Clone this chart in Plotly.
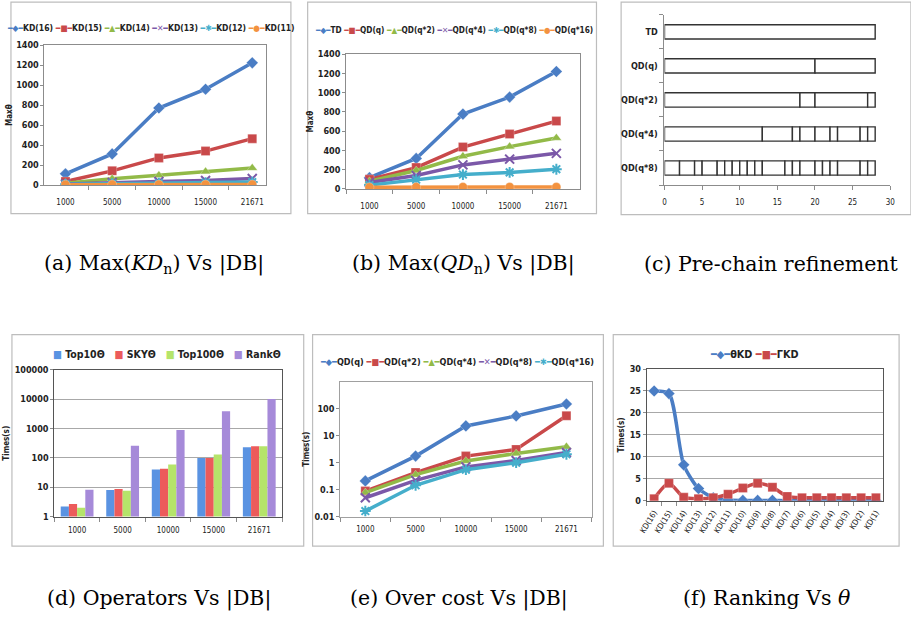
import plotly.graph_objects as go

W, H = 911, 618

# ---------------- data ----------------
sizes = ["1000", "5000", "10000", "15000", "21671"]

# (a) Max(KD_n) vs |DB|
kd_names = ["KD(16)", "KD(15)", "KD(14)", "KD(13)", "KD(12)", "KD(11)"]
kd16 = [112, 312, 772, 960, 1225]
kd15 = [35, 142, 272, 340, 465]
kd14 = [18, 62, 97, 135, 170]
kd13 = [10, 25, 35, 45, 65]
kd12 = [8, 14, 20, 25, 30]
kd11 = [4, 5, 5, 5, 5]

# (b) Max(QD_n) vs |DB|
qd_names = ["TD", "QD(q)", "QD(q*2)", "QD(q*4)", "QD(q*8)", "QD(q*16)"]
td = [117, 317, 778, 955, 1220]
qd_q = [100, 222, 435, 570, 705]
qd_q2 = [80, 192, 340, 440, 530]
qd_q4 = [68, 140, 250, 310, 370]
qd_q8 = [40, 97, 150, 172, 205]
qd_q16 = [18, 20, 20, 20, 20]

# (c) Pre-chain refinement: segment boundaries per row
refine_rows = ["TD", "QD(q)", "QD(q*2)", "QD(q*4)", "QD(q*8)"]
cuts_td = [28]
cuts_qd_q = [20, 28]
cuts_qd_q2 = [18, 20, 27, 28]
cuts_qd_q4 = [13, 17, 18, 20, 22, 23, 26, 27, 28]
cuts_qd_q8 = [2, 4, 5, 7, 8, 9, 10, 11, 12, 13, 16, 17, 18, 20, 21, 22, 23, 26, 27, 28]

# (d) Operators vs |DB|
op_names = ["Top10Θ", "SKYΘ", "Top100Θ", "RankΘ"]
top10 = [2.2, 8.0, 40, 100, 230]
sky = [2.7, 8.8, 43, 100, 250]
top100 = [2.0, 7.6, 60, 130, 250]
rank = [8.2, 260, 900, 3900, 10200]

# (e) Over cost vs |DB|
oc_names = ["QD(q)", "QD(q*2)", "QD(q*4)", "QD(q*8)", "QD(q*16)"]
oc_q = [0.21, 1.75, 23, 54, 150]
oc_q2 = [0.088, 0.43, 1.75, 3.1, 55]
oc_q4 = [0.078, 0.36, 1.15, 2.2, 3.9]
oc_q8 = [0.05, 0.22, 0.7, 1.2, 2.4]
oc_q16 = [0.016, 0.145, 0.55, 1.0, 2.05]

# (f) Ranking vs theta
kd_levels = ["KD(16)", "KD(15)", "KD(14)", "KD(13)", "KD(12)", "KD(11)", "KD(10)", "KD(9)",
             "KD(8)", "KD(7)", "KD(6)", "KD(5)", "KD(4)", "KD(3)", "KD(2)", "KD(1)"]
rank_names = ["θKD", "ΓKD"]
theta_kd = [25, 24.4, 8.2, 2.8, 0.7, 0.2, 0.1, 0.1, 0.1, 0, 0, 0, 0, 0, 0, 0]
gamma_kd = [0.5, 4.0, 0.8, 0.5, 0.7, 1.5, 2.9, 4.0, 3.1, 1.0, 0.7, 0.7, 0.7, 0.7, 0.7, 0.7]

captions = ["(a) Max(<i>KD</i><sub>n</sub>) Vs |DB|", "(b) Max(<i>QD</i><sub>n</sub>) Vs |DB|",
            "(c) Pre-chain refinement", "(d) Operators Vs |DB|", "(e) Over cost Vs |DB|",
            "(f) Ranking Vs <i>θ</i>"]

# ---------------- style ----------------
BLUE, RED, GREEN, PURPLE, CYAN, ORANGE = "#4A7DC4", "#C9494A", "#92BA48", "#7B58A8", "#45AECB", "#F3923F"
line_colors = [BLUE, RED, GREEN, PURPLE, CYAN, ORANGE]
symbols = ["diamond", "square", "triangle-up", "x-thin", "asterisk", "circle"]
glyphs = ["◆", "■", "▲", "✕", "✱", "●"]
bar_colors = ["#5A93E2", "#EC5B5B", "#B5E46A", "#A68AD9"]
FONT = "Liberation Sans Narrow, DejaVu Sans Condensed, Arial Narrow, sans-serif"
SERIF = "DejaVu Serif, Liberation Serif, serif"
INK = "#222222"


def dx(a, b):
    return [a / W, b / W]


def dy(top, bottom):
    return [1 - bottom / H, 1 - top / H]


fig = go.Figure()


def add_lines(names, series, xa, ya, xs, spline=False, width=3.5):
    for i, (n, s) in enumerate(zip(names, series)):
        c = line_colors[i]
        sym = symbols[i]
        open_sym = sym in ("x-thin", "asterisk")
        fig.add_trace(go.Scatter(
            x=xs, y=s, name=n, mode="lines+markers", xaxis=xa, yaxis=ya,
            line=dict(color=c, width=width, shape="spline" if spline else "linear", smoothing=0.7),
            marker=dict(symbol=sym, size=9, color=c,
                        line=dict(color=c if open_sym else "rgba(255,255,255,0.5)", width=2 if open_sym else 0.5)),
        ))


add_lines(kd_names, [kd16, kd15, kd14, kd13, kd12, kd11], "x", "y", sizes)
add_lines(qd_names, [td, qd_q, qd_q2, qd_q4, qd_q8, qd_q16], "x2", "y2", sizes)

# (c) stacked segments with explicit bases
seg_y, seg_x, seg_base = [], [], []
for row, cuts in zip(refine_rows, [cuts_td, cuts_qd_q, cuts_qd_q2, cuts_qd_q4, cuts_qd_q8]):
    prev = 0
    for cpt in cuts:
        seg_y.append(row)
        seg_x.append(cpt - prev)
        seg_base.append(prev)
        prev = cpt
fig.add_trace(go.Bar(orientation="h", y=seg_y, x=seg_x, base=seg_base, xaxis="x3", yaxis="y3",
                     width=0.42, name="refinement",
                     marker=dict(color="white", line=dict(color="#333333", width=1.4))))

for i, (n, s) in enumerate(zip(op_names, [top10, sky, top100, rank])):
    fig.add_trace(go.Bar(x=sizes, y=s, name=n, xaxis="x4", yaxis="y4",
                         marker=dict(color=bar_colors[i], line=dict(width=0))))

add_lines(oc_names, [oc_q, oc_q2, oc_q4, oc_q8, oc_q16], "x5", "y5", sizes)
add_lines(rank_names, [theta_kd, gamma_kd], "x6", "y6", kd_levels, spline=True)

# ---------------- axes ----------------
tick_bold = dict(family=FONT, size=9, color=INK, weight="bold")
tick_reg = dict(family=FONT, size=8, color=INK)
title_font = dict(family=FONT, size=8, color=INK, weight="bold")


def cat_x(domain, anchor, rng, mirror=True, linecolor="#8C8C8C", angle=0, standoff=6):
    return dict(domain=domain, anchor=anchor, type="category", range=rng, showgrid=False,
                showline=True, linecolor=linecolor, linewidth=1, mirror=mirror,
                ticks="outside", tickson="boundaries", ticklen=4, tickcolor="#8C8C8C",
                tickfont=tick_reg, tickangle=angle, zeroline=False, fixedrange=True,
                ticklabelstandoff=standoff)


layout = dict(
    width=W, height=H, margin=dict(l=0, r=0, t=0, b=0),
    paper_bgcolor="white", plot_bgcolor="white", showlegend=False,
    barmode="group", bargap=0.28, bargroupgap=0.0,
    font=dict(family=FONT, color=INK),
)

layout["xaxis"] = cat_x(dx(37, 262), "y", [-0.45, 4.3], standoff=9)
layout["yaxis"] = dict(domain=dy(41, 183), anchor="x", range=[0, 1400], dtick=200, showgrid=False,
                       showline=True, linecolor="#8C8C8C", mirror=True, ticks="outside", ticklen=3,
                       tickcolor="#8C8C8C", tickfont=tick_bold, zeroline=False,
                       title=dict(text="Maxθ", font=title_font, standoff=2))

layout["xaxis2"] = cat_x(dx(343, 580), "y2", [-0.5, 4.5], standoff=9)
layout["yaxis2"] = dict(domain=dy(50, 187), anchor="x2", range=[0, 1400], dtick=200, showgrid=False,
                        showline=True, linecolor="#8C8C8C", mirror=True, ticks="outside", ticklen=3,
                        tickcolor="#8C8C8C", tickfont=tick_bold, zeroline=False,
                        title=dict(text="Maxθ", font=title_font, standoff=2))

layout["xaxis3"] = dict(domain=dx(666, 895), anchor="y3", range=[0, 30], dtick=5, showgrid=False,
                        showline=True, linecolor="#8C8C8C", ticks="outside", ticklen=4,
                        tickcolor="#8C8C8C", tickfont=tick_reg, zeroline=False,
                        ticklabelstandoff=5)
layout["yaxis3"] = dict(domain=dy(10, 183), anchor="x3", type="category", categoryorder="array",
                        categoryarray=refine_rows[::-1], range=[-0.5, 4.5], showgrid=False,
                        showline=True, linecolor="#8C8C8C", ticks="outside", tickson="boundaries",
                        ticklen=4, tickcolor="#8C8C8C", tickfont=tick_bold, zeroline=False,
                        ticklabelstandoff=4)

layout["xaxis4"] = cat_x(dx(47, 278), "y4", [-0.5, 4.5], linecolor="#555555", standoff=6)
layout["yaxis4"] = dict(domain=dy(371, 520), anchor="x4", type="log", range=[0, 5],
                        tickvals=[1, 10, 100, 1000, 10000, 100000],
                        ticktext=["1", "10", "100", "1000", "10000", "100000"],
                        showgrid=True, gridcolor="#A8A8A8", gridwidth=1,
                        showline=True, linecolor="#555555", mirror=True, ticks="outside", ticklen=3,
                        tickcolor="#8C8C8C", tickfont=tick_bold, zeroline=False,
                        title=dict(text="Times(s)", font=title_font, standoff=3))

layout["xaxis5"] = cat_x(dx(337, 592), "y5", [-0.5, 4.5], linecolor="#A0A0A0", standoff=5)
layout["yaxis5"] = dict(domain=dy(383, 520), anchor="x5", type="log", range=[-2, 3],
                        tickvals=[0.01, 0.1, 1, 10, 100], ticktext=["0.01", "0.1", "1", "10", "100"],
                        showgrid=False, showline=True, linecolor="#A0A0A0", mirror=True,
                        ticks="outside", ticklen=3, tickcolor="#8C8C8C", tickfont=tick_bold,
                        zeroline=False,
                        title=dict(text="Times(s)", font=title_font, standoff=3))

layout["xaxis6"] = cat_x(dx(648, 888), "y6", [-0.5, 15.5], linecolor="#555555", angle=-58, standoff=3)
layout["yaxis6"] = dict(domain=dy(370, 504), anchor="x6", range=[0, 30], dtick=5,
                        showgrid=True, gridcolor="#A8A8A8", gridwidth=1,
                        showline=True, linecolor="#555555", mirror=True, ticks="outside", ticklen=3,
                        tickcolor="#8C8C8C", tickfont=tick_bold, zeroline=False,
                        title=dict(text="Times(s)", font=title_font, standoff=3))

# chart frames (decoration)
frames = [(3, -3, 287, 212), (304, -3, 597, 212), (622, -3, 916, 213),
          (4, 335, 300, 550), (309, 335, 604, 550), (614, 335, 904, 550)]
shapes = []
for (x0, y0, x1, y1) in frames:
    shapes.append(dict(type="rect", xref="paper", yref="paper", x0=x0 / W, x1=x1 / W,
                       y0=1 - y1 / H, y1=1 - y0 / H, line=dict(color="#BDBDBD", width=1.2),
                       fillcolor="rgba(0,0,0,0)", layer="below"))
layout["shapes"] = shapes


# legends as text rows (series names & colours)
def legend_text(names, colors, marks, bar=False):
    parts = []
    for n, c, g in zip(names, colors, marks):
        if bar:
            parts.append(f"<span style='color:{c}'>■</span> {n}")
        else:
            parts.append(f"<span style='color:{c}'>━{g}━</span>{n}")
    return ("   " if bar else " ").join(parts)


def lf(size):
    return dict(family=FONT, size=size, color=INK, weight="bold")


annotations = [
    dict(text=legend_text(kd_names, line_colors, glyphs), x=145 / W, y=1 - 23 / H, font=lf(8.5)),
    dict(text=legend_text(qd_names, line_colors, glyphs), x=452 / W, y=1 - 25 / H, font=lf(8.2)),
    dict(text=legend_text(op_names, bar_colors, glyphs, bar=True), x=161 / W, y=1 - 355 / H, font=lf(10.5)),
    dict(text=legend_text(oc_names, line_colors, glyphs), x=455 / W, y=1 - 363 / H, font=lf(9)),
    dict(text=legend_text(rank_names, line_colors, glyphs), x=757 / W, y=1 - 355 / H, font=lf(10.8)),
]
for a in annotations:
    a.update(xref="paper", yref="paper", showarrow=False, xanchor="center", yanchor="middle")

cap_pos = [(148, 263), (462, 263), (775, 263), (153, 603), (458, 603), (770, 603)]
for txt, (cx, cy) in zip(captions, cap_pos):
    annotations.append(dict(text=txt, x=cx / W, y=1 - cy / H, xref="paper", yref="paper",
                            showarrow=False, xanchor="center", yanchor="middle",
                            font=dict(family=SERIF, size=20.5, color="black")))
layout["annotations"] = annotations

fig.update_layout(**layout)
fig.write_html("out.html", config={"displayModeBar": False},
               post_script="document.body.style.margin='0';document.body.style.overflow='hidden';")
